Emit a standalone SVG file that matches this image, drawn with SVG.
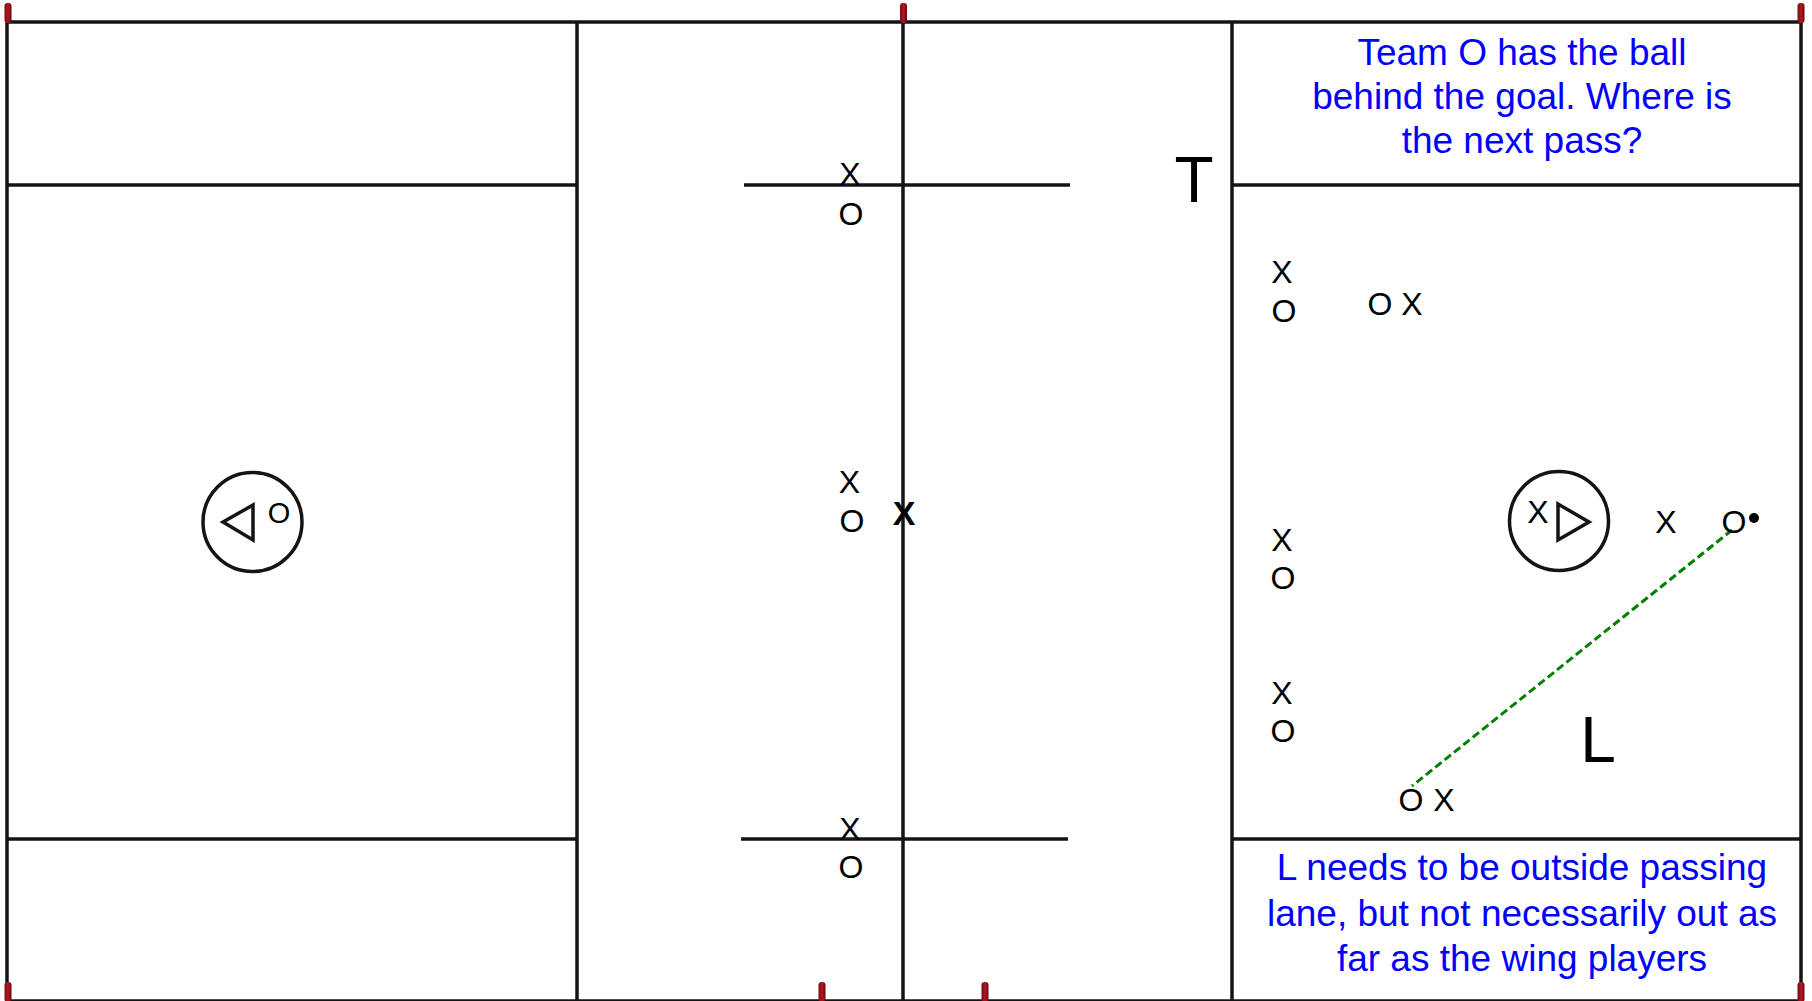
<svg xmlns="http://www.w3.org/2000/svg" width="1812" height="1001" viewBox="0 0 1812 1001">
<style>
.ln{stroke:#141414;stroke-width:3.5;fill:none}
.pl{font-family:"Liberation Sans",Arial,sans-serif;font-size:32px;fill:#000;text-anchor:middle}
.big{font-family:"Liberation Sans",Arial,sans-serif;font-size:64px;fill:#000;text-anchor:middle}
.note{font-family:"Liberation Sans",Arial,sans-serif;font-size:37px;fill:#0000ff;text-anchor:middle}
.post{fill:url(#pg)}
</style>
<defs>
<linearGradient id="pg" x1="0" y1="0" x2="1" y2="0">
<stop offset="0" stop-color="#7a0a10"/>
<stop offset="0.5" stop-color="#b01822"/>
<stop offset="1" stop-color="#6a060c"/>
</linearGradient>
</defs>
<rect width="1812" height="1001" fill="#fff"/>
<g id="field">
<line class="ln" x1="6" y1="22" x2="1801" y2="22"/>
<line class="ln" x1="6" y1="1001" x2="1801" y2="1001"/>
<line class="ln" x1="7" y1="22" x2="7" y2="1001"/>
<line class="ln" x1="1801" y1="22" x2="1801" y2="1001"/>
<line class="ln" x1="577" y1="22" x2="577" y2="1001"/>
<line class="ln" x1="903" y1="22" x2="903" y2="1001"/>
<line class="ln" x1="1232" y1="22" x2="1232" y2="1001"/>
<line class="ln" x1="7" y1="185" x2="577" y2="185"/>
<line class="ln" x1="7" y1="839" x2="577" y2="839"/>
<line class="ln" x1="1232" y1="185" x2="1801" y2="185"/>
<line class="ln" x1="1232" y1="839" x2="1801" y2="839"/>
<line class="ln" x1="744" y1="185" x2="1070" y2="185"/>
<line class="ln" x1="741" y1="839" x2="1068" y2="839"/>
</g>
<g id="posts">
<rect class="post" x="4.5" y="3" width="7" height="20" rx="3"/>
<rect class="post" x="900" y="3" width="7" height="20" rx="3"/>
<rect class="post" x="1797.5" y="3" width="7" height="20" rx="3"/>
<rect class="post" x="4.5" y="982" width="7" height="20" rx="3"/>
<rect class="post" x="818.5" y="982" width="7" height="20" rx="3"/>
<rect class="post" x="981.5" y="982" width="7" height="20" rx="3"/>
<rect class="post" x="1797.5" y="982" width="7" height="20" rx="3"/>
</g>
<g id="goal-left">
<circle class="ln" cx="252.5" cy="522" r="49.5"/>
<polygon class="ln" points="223,522 253,505 253,540"/>
<text class="pl" x="279" y="523" style="font-size:29px">O</text>
</g>
<g id="goal-right">
<circle class="ln" cx="1559" cy="521" r="49.5"/>
<polygon class="ln" points="1558,504 1558,540 1589,522"/>
<text class="pl" x="1538" y="523">X</text>
</g>
<g id="connectors">
<line x1="1732" y1="530" x2="1412" y2="786" stroke="#008000" stroke-width="3" stroke-dasharray="8,4"/>
</g>
<g id="players">
<text class="pl" x="850" y="185">X</text>
<text class="pl" x="851" y="225">O</text>
<text class="pl" x="849.5" y="493">X</text>
<text class="pl" x="852" y="532">O</text>
<text class="pl" x="904" y="525" style="font-size:34px;font-weight:bold">X</text>
<text class="pl" x="850" y="840">X</text>
<text class="pl" x="851" y="878">O</text>
<text class="pl" x="1282" y="283">X</text>
<text class="pl" x="1284" y="322">O</text>
<text class="pl" x="1380" y="315">O</text>
<text class="pl" x="1412" y="315">X</text>
<text class="pl" x="1282" y="551">X</text>
<text class="pl" x="1283" y="589">O</text>
<text class="pl" x="1282" y="704">X</text>
<text class="pl" x="1283" y="742">O</text>
<text class="pl" x="1411" y="811">O</text>
<text class="pl" x="1444" y="811">X</text>
<text class="pl" x="1666" y="533">X</text>
<text class="pl" x="1734" y="533">O</text>
<circle cx="1754" cy="518" r="5" fill="#000"/>
</g>
<g id="labels">
<text class="big" x="1194" y="202">T</text>
<text class="big" x="1598" y="762">L</text>
</g>
<g id="notes">
<text class="note" x="1522" y="65">Team O has the ball</text>
<text class="note" x="1522" y="109">behind the goal. Where is</text>
<text class="note" x="1522" y="153">the next pass?</text>
<text class="note" x="1522" y="880">L needs to be outside passing</text>
<text class="note" x="1522" y="926">lane, but not necessarily out as</text>
<text class="note" x="1522" y="971">far as the wing players</text>
</g>
</svg>
